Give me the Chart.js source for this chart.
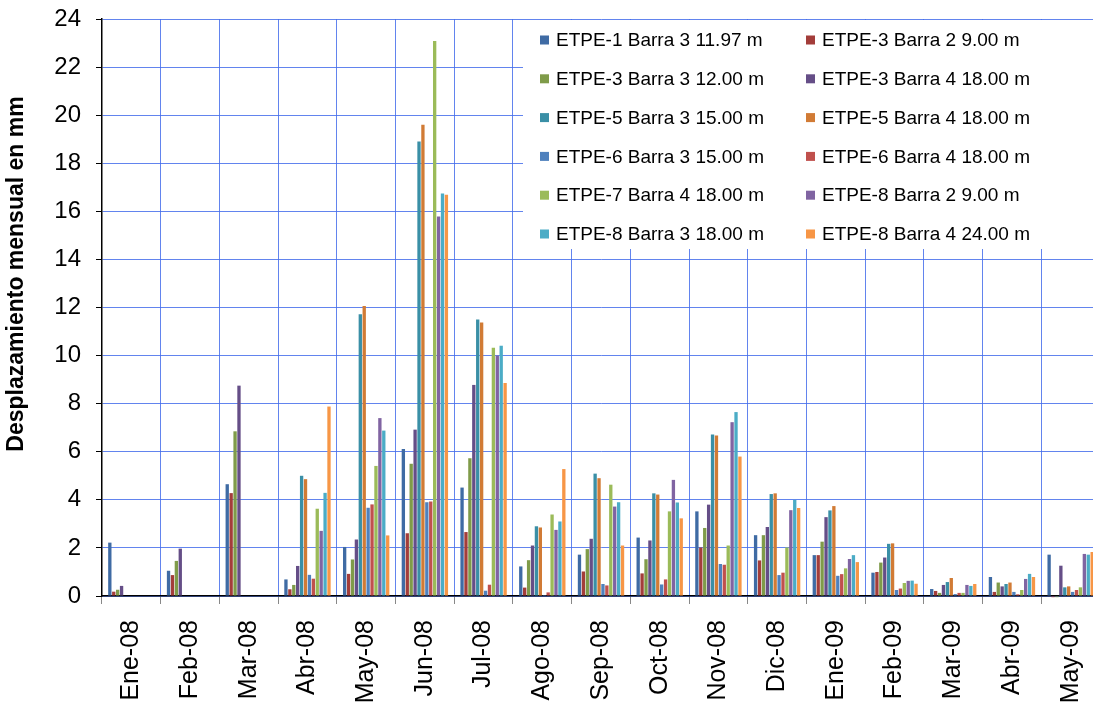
<!DOCTYPE html>
<html>
<head>
<meta charset="utf-8">
<script src="https://cdn.jsdelivr.net/npm/chart.js@4.4.1/dist/chart.umd.min.js"></script>
<style>
  html, body { margin: 0; padding: 0; background: #fff; overflow: hidden; }
  /* el grafico original queda recortado por la derecha */
  #wrap { width: 1100px; height: 709px; position: relative; }
</style>
</head>
<body>
<div id="wrap"><canvas id="chart"></canvas></div>
<script>
// Meses (eje x)
var months = ["Ene-08", "Feb-08", "Mar-08", "Abr-08", "May-08", "Jun-08", "Jul-08", "Ago-08",
    "Sep-08", "Oct-08", "Nov-08", "Dic-08", "Ene-09", "Feb-09", "Mar-09", "Abr-09", "May-09"];

var yTicks = [0, 2, 4, 6, 8, 10, 12, 14, 16, 18, 20, 22, 24];

// Desplazamiento mensual (mm) por barra
var etpe1b3 = [2.22, 1.05, 4.65, 0.69, 2.04, 6.11, 4.51, 1.23, 1.72, 2.43, 3.52, 2.53, 1.70, 0.97, 0.29, 0.79, 1.72];
var etpe3b2 = [0.18, 0.87, 4.28, 0.28, 0.92, 2.61, 2.66, 0.35, 1.02, 0.94, 2.02, 1.48, 1.70, 1.00, 0.21, 0.17, -0.05];
var etpe3b3 = [0.26, 1.46, 6.85, 0.46, 1.52, 5.50, 5.73, 1.49, 1.95, 1.53, 2.83, 2.53, 2.26, 1.39, 0.13, 0.56, -0.05];
var etpe3b4 = [0.42, 1.97, 8.75, 1.25, 2.35, 6.92, 8.78, 2.10, 2.38, 2.31, 3.80, 2.87, 3.28, 1.60, 0.46, 0.40, 1.26];
var etpe5b3 = [null, null, null, 5.00, 11.72, 18.90, 11.50, 2.90, 5.09, 4.27, 6.72, 4.24, 3.56, 2.17, 0.58, 0.50, 0.36];
var etpe5b4 = [null, null, null, 4.86, 12.06, 19.60, 11.38, 2.85, 4.90, 4.22, 6.68, 4.27, 3.74, 2.19, 0.75, 0.56, 0.40];
var etpe6b3 = [null, null, null, 0.88, 3.67, 3.90, 0.22, 0.04, 0.50, 0.48, 1.33, 0.87, 0.84, 0.25, 0.08, 0.17, 0.17];
var etpe6b4 = [null, null, null, 0.72, 3.81, 3.93, 0.47, 0.15, 0.44, 0.69, 1.30, 0.97, 0.91, 0.31, 0.13, 0.07, 0.25];
var etpe7b4 = [null, null, null, 3.63, 5.41, 23.09, 10.33, 3.39, 4.63, 3.52, 2.10, 2.02, 1.15, 0.54, 0.13, 0.25, 0.36];
var etpe8b2 = [null, null, null, 2.71, 7.40, 15.79, 10.00, 2.75, 3.72, 4.83, 7.23, 3.57, 1.54, 0.63, 0.46, 0.71, 1.75];
var etpe8b3 = [null, null, null, 4.29, 6.88, 16.74, 10.41, 3.10, 3.90, 3.89, 7.65, 4.00, 1.70, 0.64, 0.42, 0.92, 1.72];
var etpe8b4 = [null, null, null, 7.88, 2.52, 16.69, 8.86, 5.28, 2.10, 3.23, 5.80, 3.66, 1.41, 0.51, 0.50, 0.79, 1.83];

var seriesLabels = ["ETPE-1 Barra 3 11.97 m", "ETPE-3 Barra 2 9.00 m", "ETPE-3 Barra 3 12.00 m",
    "ETPE-3 Barra 4 18.00 m", "ETPE-5 Barra 3 15.00 m", "ETPE-5 Barra 4 18.00 m",
    "ETPE-6 Barra 3 15.00 m", "ETPE-6 Barra 4 18.00 m", "ETPE-7 Barra 4 18.00 m",
    "ETPE-8 Barra 2 9.00 m", "ETPE-8 Barra 3 18.00 m", "ETPE-8 Barra 4 24.00 m"];
var seriesData = [etpe1b3, etpe3b2, etpe3b3, etpe3b4, etpe5b3, etpe5b4, etpe6b3, etpe6b4, etpe7b4, etpe8b2, etpe8b3, etpe8b4];
var seriesColors = ["#3F6BA4", "#A33D3A", "#7F9B49", "#654E87", "#3A8FA6", "#D17B35",
    "#4F81BD", "#C0504D", "#9BBB59", "#8064A2", "#4BACC6", "#F79646"];

var FONT = "'Liberation Sans', Arial, sans-serif";
var yTitle = "Desplazamiento mensual en mm";

var datasets = [];
for (var i = 0; i < seriesData.length; i++) {
    datasets.push({
        label: seriesLabels[i],
        data: seriesData[i],
        backgroundColor: seriesColors[i],
        borderWidth: 0,
        categoryPercentage: 0.8,
        barPercentage: 0.85,
        clip: 4
    });
}

// Leyenda dentro del area del grafico (2 columnas) y titulo del eje y
var boxLegend = {
    id: 'boxLegend',
    afterDraw: function (chart) {
        var ctx = chart.ctx;
        var area = chart.chartArea;
        var left = 523, top = area.top + 1;
        ctx.save();
        ctx.fillStyle = "#ffffff";
        ctx.fillRect(left, top, area.right - left, 229);
        ctx.font = "19px " + FONT;
        ctx.textBaseline = "middle";
        ctx.textAlign = "left";
        chart.data.datasets.forEach(function (ds, k) {
            var col = k % 2, row = Math.floor(k / 2);
            var x = col === 0 ? 540 : 806;
            var y = 40 + row * 38.8;
            ctx.fillStyle = ds.backgroundColor;
            ctx.fillRect(x, y - 4.5, 9, 9);
            ctx.fillStyle = "#000";
            ctx.fillText(ds.label, x + 16, y + 1);
        });

        // titulo vertical (Excel lo deja algo por encima del centro)
        ctx.translate(17, 274);
        ctx.rotate(-Math.PI / 2);
        ctx.font = "bold 23px " + FONT;
        ctx.textAlign = "center";
        ctx.fillText(yTitle, 0, 0);
        ctx.restore();
    }
};

new Chart(document.getElementById("chart"), {
    type: 'bar',
    data: { labels: months, datasets: datasets },
    plugins: [boxLegend],
    options: {
        responsive: true,
        maintainAspectRatio: false,
        animation: false,
        layout: { padding: { top: 19, right: 0, left: 0, bottom: 0 } },
        plugins: {
            legend: { display: false },
            tooltip: { enabled: false }
        },
        scales: {
            x: {
                grid: { color: "rgba(70,110,235,0.85)", tickColor: "#888", tickLength: 8, offset: true },
                border: { color: "#000", width: 1.5 },
                ticks: {
                    font: { family: FONT, size: 25 },
                    color: "#000",
                    maxRotation: 90,
                    minRotation: 90,
                    padding: 16,
                    autoSkip: false
                },
                afterFit: function (scale) {
                    scale.height = 113;
                    scale.paddingLeft = 0;
                    scale.paddingRight = 0;
                }
            },
            y: {
                min: 0,
                max: 24,
                afterBuildTicks: function (scale) {
                    scale.ticks = yTicks.map(function (v) { return { value: v }; });
                },
                grid: { color: "rgba(70,110,235,0.85)", tickColor: "#000", tickLength: 6 },
                border: { color: "#000", width: 1.5 },
                ticks: {
                    font: { family: FONT, size: 24 },
                    color: "#000",
                    padding: 15
                },
                afterFit: function (scale) {
                    scale.width = 102;
                    scale.paddingTop = 0;
                    scale.paddingBottom = 0;
                }
            }
        }
    }
});
</script>
</body>
</html>
